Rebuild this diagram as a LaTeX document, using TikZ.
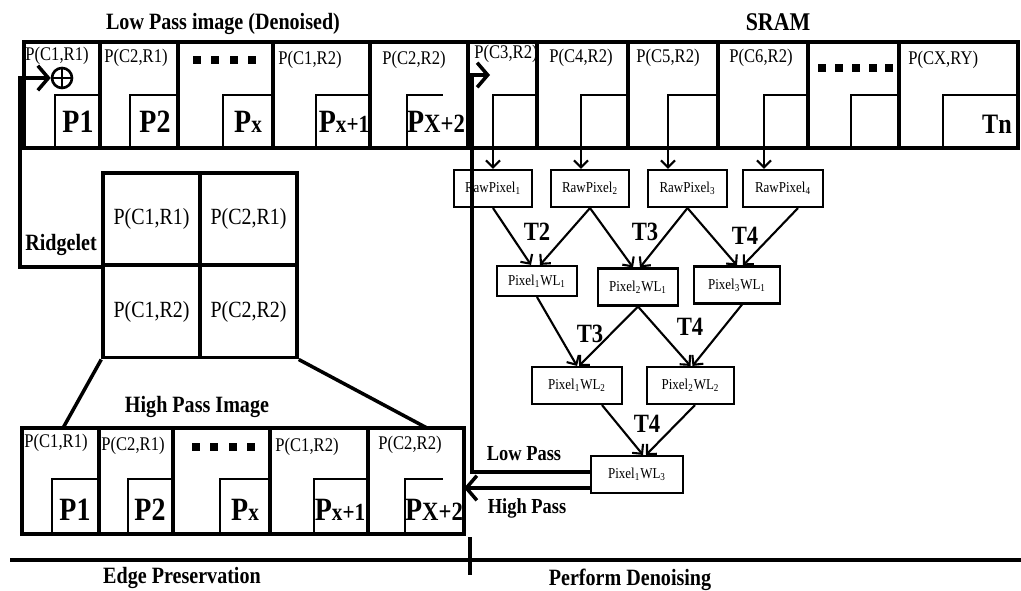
\documentclass[tikz,border=0pt]{standalone}
\usepackage{fontspec}
\setmainfont{Liberation Serif}[FakeStretch=0.86]
\usetikzlibrary{arrows.meta,positioning}

\tikzset{
  frame/.style={line width=2pt},
  stepline/.style={line width=1.3pt},
  pixbox/.style={draw,line width=1.2pt,minimum height=0.74cm,inner sep=1pt,font=\fontsize{8.6}{9}\selectfont},
  gridbox/.style={draw,line width=2pt,minimum width=1.94cm,minimum height=1.85cm,inner sep=0pt,font=\fontsize{13.2}{14}\selectfont},
  cellname/.style={anchor=west,inner sep=0pt,font=\fontsize{11}{12}\selectfont},
  bigname/.style={inner sep=0pt,font=\fontsize{18.5}{19}\selectfont\bfseries},
  title/.style={inner sep=0pt,font=\fontsize{13.3}{14}\selectfont\bfseries},
  tlabel/.style={inner sep=0pt,font=\fontsize{15}{15}\selectfont\bfseries},
  tree/.style={line width=1.2pt,-{Straight Barb[length=4pt,width=8pt,line width=1.2pt]}},
  feed/.style={line width=2pt,-{Straight Barb[length=6pt,width=14pt,line width=2pt]}}
}
\newcommand{\smallpart}[2]{{\fontsize{#1}{#1}\selectfont #2}}

\begin{document}
\begin{tikzpicture}[x=0.02cm,y=-0.02cm]
  \useasboundingbox (0,0) rectangle (1021,591);

  % titles
  \node[title] (lowtitle) at (223,24) {Low Pass image (Denoised)};
  \node[title,font=\fontsize{14.5}{15}\selectfont\bfseries] (sram) at (778,22) {SRAM};

  % SRAM row
  \draw[frame] (24,42) rectangle (1018,148);
  \foreach \x in {100,178,273,370,468,537,628,718,808,899}
    \draw[frame] (\x,42) -- (\x,148);
  \foreach \x/\r in {55/100,130/178,223/273,316/370,407/443,493/537,581/628,668/718,764/808,851/899,943/1018}
    \draw[stepline] (\x,148) |- (\r,95);
  \foreach \x in {197,215,234,252}
    \fill (\x-4,56) rectangle (\x+4,64);
  \foreach \x in {822,839,856,873,889}
    \fill (\x-4,64) rectangle (\x+4,72);

  \node[cellname] (s1) at (25,56) {P(C1,R1)};
  \node[cellname] (s2) at (104,58) {P(C2,R1)};
  \node[cellname] (s4) at (278,60) {P(C1,R2)};
  \node[cellname] (s5) at (382,60) {P(C2,R2)};
  \node[cellname] (s6) at (474,54) {P(C3,R2)};
  \node[cellname] (s7) at (549,58) {P(C4,R2)};
  \node[cellname] (s8) at (636,58) {P(C5,R2)};
  \node[cellname] (s9) at (729,58) {P(C6,R2)};
  \node[cellname] (s11) at (908,60) {P(CX,RY)};

  \node[bigname] (sp1) at (78,122) {P1};
  \node[bigname] (sp2) at (155,122) {P2};
  \node[bigname] (spx) at (248,122) {P\smallpart{14}{x}};
  \node[bigname] (spx1) at (344,122) {P\smallpart{14}{x+1}};
  \node[bigname] (spx2) at (436,122) {P\smallpart{15}{X+2}};
  \node[bigname,font=\fontsize{16}{16}\selectfont\bfseries] (stn) at (997,124) {Tn};

  \node[circle,draw,line width=1.5pt,minimum size=0.4cm,inner sep=0pt] (oplus) at (62,78) {};
  \draw[line width=1.5pt] (oplus.north) -- (oplus.south) (oplus.west) -- (oplus.east);

  % ridgelet grid
  \node[gridbox] (g11) at (151.5,219) {P(C1,R1)};
  \node[gridbox] (g21) at (248.5,219) {P(C2,R1)};
  \node[gridbox] (g12) at (151.5,311.5) {P(C1,R2)};
  \node[gridbox] (g22) at (248.5,311.5) {P(C2,R2)};
  \node[title] (ridge) at (61,245) {Ridgelet};
  \coordinate (ridgeturn) at (20,78);
  \draw[feed] (g11.south west) -| (ridgeturn) -- (oplus.west);

  % high pass row
  \node[title] (hightitle) at (197,407) {High Pass Image};
  \draw[frame] (g12.south west) -- (63,428);
  \draw[frame] (g22.south east) -- (427,428);
  \draw[frame] (22,428) rectangle (464,534);
  \foreach \x in {99,173,270,368}
    \draw[frame] (\x,428) -- (\x,534);
  \foreach \x/\r in {52/99,128/173,220/270,314/368,405/443}
    \draw[stepline] (\x,534) |- (\r,479);
  \foreach \x in {196,214,233,251}
    \fill (\x-4,443) rectangle (\x+4,451);

  \node[cellname] (h1) at (24,443) {P(C1,R1)};
  \node[cellname] (h2) at (101,446) {P(C2,R1)};
  \node[cellname] (h4) at (275,447) {P(C1,R2)};
  \node[cellname] (h5) at (378,445) {P(C2,R2)};

  \node[bigname] (hp1) at (75,510) {P1};
  \node[bigname] (hp2) at (150,510) {P2};
  \node[bigname] (hpx) at (245,510) {P\smallpart{14}{x}};
  \node[bigname] (hpx1) at (340,510) {P\smallpart{14}{x+1}};
  \node[bigname] (hpx2) at (434,510) {P\smallpart{15}{X+2}};

  % wavelet tree
  \node[pixbox,minimum width=1.56cm] (raw1) at (493,188.5) {RawPixel\textsubscript{1}};
  \node[pixbox,minimum width=1.56cm] (raw2) at (590,188.5) {RawPixel\textsubscript{2}};
  \node[pixbox,minimum width=1.58cm] (raw3) at (687.5,188.5) {RawPixel\textsubscript{3}};
  \node[pixbox,minimum width=1.6cm] (raw4) at (783,188.5) {RawPixel\textsubscript{4}};

  \node[pixbox,minimum width=1.6cm,minimum height=0.6cm] (wl11) at (537,281) {Pixel\textsubscript{1}WL\textsubscript{1}};
  \node[pixbox,minimum width=1.6cm] (wl21) at (638,287) {Pixel\textsubscript{2}WL\textsubscript{1}};
  \node[pixbox,minimum width=1.72cm] (wl31) at (737,285) {Pixel\textsubscript{3}WL\textsubscript{1}};

  \node[pixbox,minimum width=1.8cm] (wl12) at (577,385.5) {Pixel\textsubscript{1}WL\textsubscript{2}};
  \node[pixbox,minimum width=1.74cm] (wl22) at (690.5,385.5) {Pixel\textsubscript{2}WL\textsubscript{2}};

  \node[pixbox,minimum width=1.84cm] (wl3) at (637,474.5) {Pixel\textsubscript{1}WL\textsubscript{3}};

  \coordinate (tap1) at (493,148);
  \coordinate (tap2) at (581,148);
  \coordinate (tap3) at (668,148);
  \coordinate (tap4) at (764,148);
  \draw[tree] (tap1) -- (tap1 |- raw1.north);
  \draw[tree] (tap2) -- (tap2 |- raw2.north);
  \draw[tree] (tap3) -- (tap3 |- raw3.north);
  \draw[tree] (tap4) -- (tap4 |- raw4.north);

  \draw[tree] (raw1.south) -- ([xshift=-0.12cm]wl11.north);
  \draw[tree] (raw2.south) -- ([xshift=0.06cm]wl11.north);
  \draw[tree] (raw2.south) -- ([xshift=-0.1cm]wl21.north);
  \draw[tree] (raw3.south) -- ([xshift=0.04cm]wl21.north);
  \draw[tree] (raw3.south) -- (wl31.north);
  \draw[tree] ([xshift=0.3cm]raw4.south) -- ([xshift=0.12cm]wl31.north);

  \draw[tree] (wl11.south) -- (wl12.north);
  \draw[tree] (wl21.south) -- ([xshift=0.04cm]wl12.north);
  \draw[tree] (wl21.south) -- (wl22.north);
  \draw[tree] ([xshift=0.1cm]wl31.south) -- ([xshift=0.04cm]wl22.north);

  \draw[tree] ([xshift=0.5cm]wl12.south) -- ([xshift=0.12cm]wl3.north);
  \draw[tree] ([xshift=0.09cm]wl22.south) -- ([xshift=0.18cm]wl3.north);

  \node[tlabel] (t2a) at (537,232) {T2};
  \node[tlabel] (t3a) at (645,232) {T3};
  \node[tlabel] (t4a) at (745,236) {T4};
  \node[tlabel] (t3b) at (590,334) {T3};
  \node[tlabel] (t4b) at (690,327) {T4};
  \node[tlabel] (t4c) at (647,424) {T4};

  % low and high pass outputs
  \coordinate (lowin) at (490,75);
  \coordinate (lowturn) at (472,472);
  \coordinate (highin) at (464,488);
  \draw[feed] (wl3.west |- lowturn) -- (lowturn) |- (lowin);
  \draw[feed] (wl3.west |- highin) -- (highin);
  \node[title,font=\fontsize{12.2}{13}\selectfont\bfseries] (lowlab) at (524,454) {Low Pass};
  \node[title,font=\fontsize{12.2}{13}\selectfont\bfseries] (highlab) at (527,508) {High Pass};

  % bottom
  \draw[frame] (10,560) -- (1021,560);
  \draw[frame] (470,537) -- (470,575);
  \node[title] (edge) at (182,578) {Edge Preservation};
  \node[title] (denoise) at (630,580) {Perform Denoising};
\end{tikzpicture}
\end{document}
